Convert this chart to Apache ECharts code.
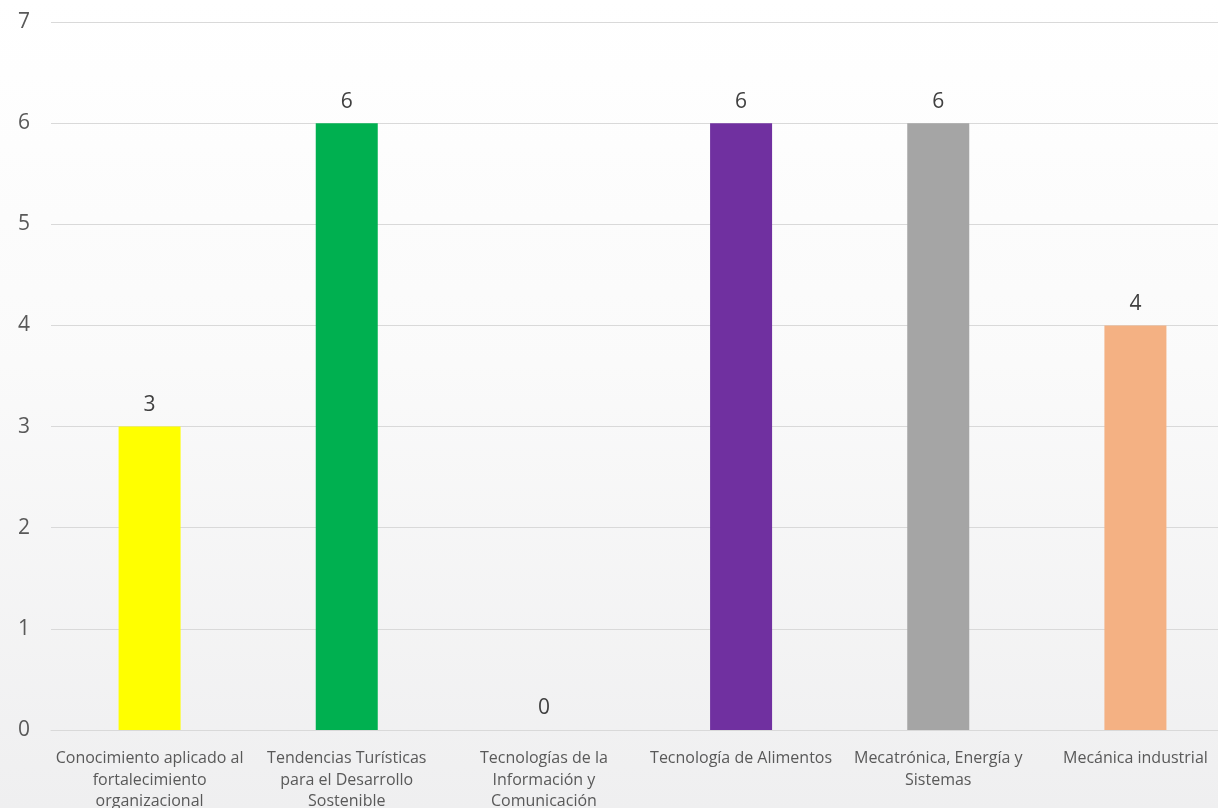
<!DOCTYPE html>
<html>
<head>
<meta charset="utf-8">
<title>Chart</title>
<script src="https://cdn.jsdelivr.net/npm/echarts@6/dist/echarts.min.js"></script>
<style>
  html, body { margin: 0; padding: 0; }
  #chart { width: 1218px; height: 808px; }
</style>
</head>
<body>
<div id="chart"></div>
<script>
// categorias (con saltos de linea como en la grafica original)
const categories = [
    'Conocimiento aplicado al\nfortalecimiento\norganizacional',
    'Tendencias Turísticas\npara el Desarrollo\nSostenible',
    'Tecnologías de la\nInformación y\nComunicación',
    'Tecnología de Alimentos',
    'Mecatrónica, Energía y\nSistemas',
    'Mecánica industrial'
];
const values = [3, 6, 0, 6, 6, 4];
const barColors = ['#FFFF00', '#00B050', '#7030A0', '#7030A0', '#A5A5A5', '#F4B183'];

const myBar = echarts.init(document.getElementById('chart'));
myBar.setOption({
    animation: false,
    backgroundColor: {
        type: 'linear', x: 0, y: 0, x2: 0, y2: 1,
        colorStops: [
            {offset: 0, color: '#ffffff'},
            {offset: 0.45, color: '#fafafa'},
            {offset: 1, color: '#efeff0'}
        ]
    },
    grid: {
        left: 51,
        right: -16,   // el area sigue mas alla del borde derecho, como en la imagen
        top: 22,
        bottom: 78,
        containLabel: false,
        outerBoundsMode: 'none'
    },
    xAxis: {
        type: 'category',
        data: categories,
        axisLine: {lineStyle: {color: '#d9d9d9', width: 1}},
        axisTick: {show: false},
        axisLabel: {
            interval: 0,
            margin: 18,
            color: '#595959',
            fontFamily: 'Open Sans',
            fontSize: 16,
            lineHeight: 21.5,
            align: 'center'
        }
    },
    yAxis: {
        type: 'value',
        min: 0,
        max: 7,
        interval: 1,
        axisLine: {show: false},
        axisTick: {show: false},
        splitLine: {lineStyle: {color: '#d9d9d9', width: 1}},
        axisLabel: {
            margin: 21,
            color: '#595959',
            fontFamily: 'Open Sans',
            fontSize: 21
        }
    },
    series: [{
        type: 'bar',
        barWidth: 62,
        data: values.map((v, i) => ({value: v, itemStyle: {color: barColors[i]}})),
        label: {
            show: true,
            position: 'top',
            distance: 11,
            color: '#404040',
            fontFamily: 'Open Sans',
            fontSize: 21
        }
    }]
});
</script>
</body>
</html>
